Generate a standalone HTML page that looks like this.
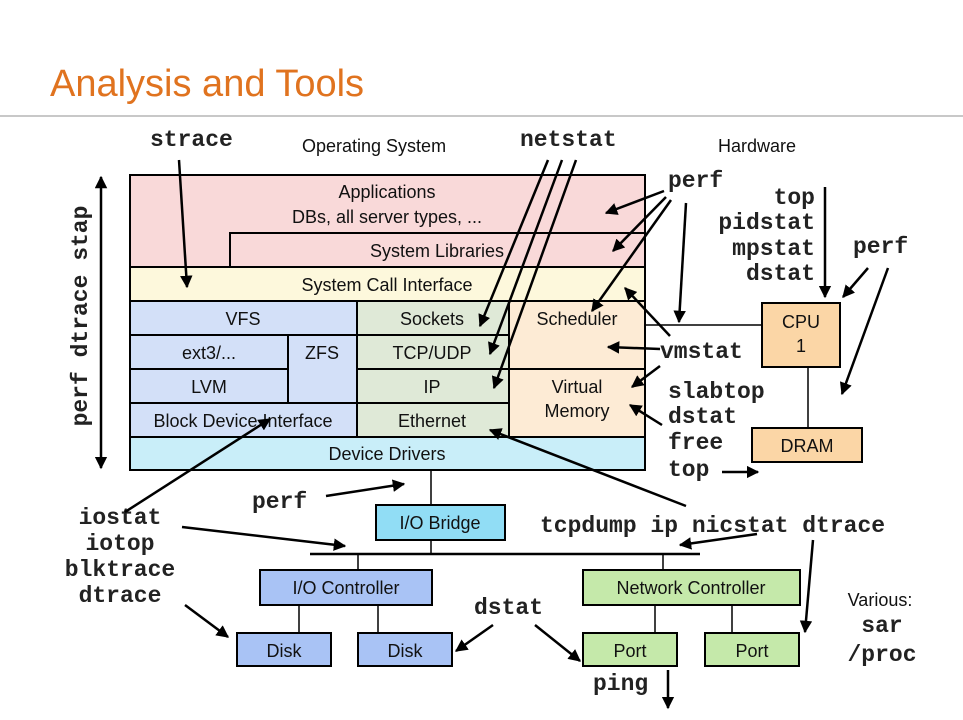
<!DOCTYPE html>
<html><head><meta charset="utf-8"><style>
html,body{margin:0;padding:0;background:#fff}
svg{display:block}
.s{font-family:"Liberation Sans",sans-serif;font-size:18px;fill:#111}
.m{font-family:"Liberation Mono",monospace;font-weight:bold;font-size:23px;fill:#222}
</style></head><body>
<svg width="963" height="720" viewBox="0 0 963 720" xmlns="http://www.w3.org/2000/svg">
<defs><marker id="a" viewBox="0 0 10 10" refX="9" refY="5" markerWidth="5" markerHeight="5" orient="auto-start-reverse"><path d="M0,0 L10,5 L0,10 z" fill="#000"/></marker></defs>
<text x="50" y="96" font-family="Liberation Sans,sans-serif" font-size="38" fill="#e0731f">Analysis and Tools</text>
<line x1="0" y1="116" x2="963" y2="116" stroke="#c8c8c8" stroke-width="2"/>
<text class="s" x="302" y="152" font-size="20">Operating System</text>
<text class="s" x="718" y="152" font-size="20">Hardware</text>
<g stroke="#000" stroke-width="2">
<rect x="130" y="175" width="515" height="92" fill="#f9d9d9"/>
<rect x="230" y="233" width="415" height="34" fill="#f9d9d9"/>
<rect x="130" y="267" width="515" height="34" fill="#fdf8dc"/>
<rect x="130" y="301" width="227" height="34" fill="#d3e0f8"/>
<rect x="130" y="335" width="158" height="34" fill="#d3e0f8"/>
<rect x="288" y="335" width="69" height="68" fill="#d3e0f8"/>
<rect x="130" y="369" width="158" height="34" fill="#d3e0f8"/>
<rect x="130" y="403" width="227" height="34" fill="#d3e0f8"/>
<rect x="357" y="301" width="152" height="34" fill="#dfe9d7"/>
<rect x="357" y="335" width="152" height="34" fill="#dfe9d7"/>
<rect x="357" y="369" width="152" height="34" fill="#dfe9d7"/>
<rect x="357" y="403" width="152" height="34" fill="#dfe9d7"/>
<rect x="509" y="301" width="136" height="68" fill="#fdebd5"/>
<rect x="509" y="369" width="136" height="68" fill="#fdebd5"/>
<rect x="130" y="437" width="515" height="33" fill="#c9eef9"/>
<rect x="762" y="303" width="78" height="64" fill="#fbd6a6"/>
<rect x="752" y="428" width="110" height="34" fill="#fbd6a6"/>
<rect x="376" y="505" width="129" height="35" fill="#91ddf5"/>
<rect x="260" y="570" width="172" height="35" fill="#a9c3f5"/>
<rect x="583" y="570" width="217" height="35" fill="#c5e9aa"/>
<rect x="237" y="633" width="94" height="33" fill="#a9c3f5"/>
<rect x="358" y="633" width="94" height="33" fill="#a9c3f5"/>
<rect x="583" y="633" width="94" height="33" fill="#c5e9aa"/>
<rect x="705" y="633" width="94" height="33" fill="#c5e9aa"/>
</g>
<g stroke="#000" stroke-width="1.5">
<line x1="645" y1="325" x2="762" y2="325"/><line x1="808" y1="367" x2="808" y2="428"/>
<line x1="431" y1="470" x2="431" y2="505"/><line x1="431" y1="540" x2="431" y2="554"/>
<line x1="310" y1="554" x2="700" y2="554" stroke-width="2.5"/>
<line x1="358" y1="554" x2="358" y2="570"/><line x1="663" y1="554" x2="663" y2="570"/>
<line x1="299" y1="605" x2="299" y2="633"/><line x1="378" y1="605" x2="378" y2="633"/>
<line x1="655" y1="605" x2="655" y2="633"/><line x1="732" y1="605" x2="732" y2="633"/>
</g>
<g class="s" text-anchor="middle">
<text x="387" y="198">Applications</text><text x="387" y="223">DBs, all server types, ...</text>
<text x="437" y="257">System Libraries</text><text x="387" y="291">System Call Interface</text>
<text x="243" y="325">VFS</text><text x="209" y="359">ext3/...</text><text x="322" y="359">ZFS</text>
<text x="209" y="393">LVM</text><text x="243" y="427">Block Device Interface</text>
<text x="432" y="325">Sockets</text><text x="432" y="359">TCP/UDP</text><text x="432" y="393">IP</text><text x="432" y="427">Ethernet</text>
<text x="577" y="325">Scheduler</text><text x="577" y="393">Virtual</text><text x="577" y="417">Memory</text>
<text x="387" y="460">Device Drivers</text>
<text x="801" y="328">CPU</text><text x="801" y="352">1</text><text x="807" y="452">DRAM</text>
<text x="440" y="529">I/O Bridge</text><text x="346" y="594">I/O Controller</text><text x="691" y="594">Network Controller</text>
<text x="284" y="657">Disk</text><text x="405" y="657">Disk</text><text x="630" y="657">Port</text><text x="752" y="657">Port</text>
<text x="880" y="606">Various:</text>
</g>
<g class="m">
<text x="150" y="146">strace</text><text x="520" y="146">netstat</text><text x="668" y="187">perf</text>
<text x="815" y="204" text-anchor="end">top</text><text x="815" y="229" text-anchor="end">pidstat</text>
<text x="815" y="255" text-anchor="end">mpstat</text><text x="815" y="280" text-anchor="end">dstat</text>
<text x="853" y="253">perf</text><text x="660" y="358">vmstat</text>
<text x="668" y="398">slabtop</text><text x="668" y="423">dstat</text><text x="668" y="449">free</text><text x="668" y="476">top</text>
<text x="252" y="508">perf</text>
<text x="120" y="524" text-anchor="middle">iostat</text><text x="120" y="550" text-anchor="middle">iotop</text>
<text x="120" y="576" text-anchor="middle">blktrace</text><text x="120" y="602" text-anchor="middle">dtrace</text>
<text x="540" y="532">tcpdump ip nicstat dtrace</text>
<text x="474" y="614">dstat</text><text x="593" y="690">ping</text>
<text x="882" y="632" text-anchor="middle">sar</text><text x="882" y="661" text-anchor="middle">/proc</text>
<text transform="translate(87,316) rotate(-90)" text-anchor="middle">perf dtrace stap</text>
</g>
<g stroke="#000" stroke-width="2.5" marker-end="url(#a)" fill="none">
<line x1="101" y1="468" x2="101" y2="177" marker-start="url(#a)"/>
<line x1="179" y1="160" x2="187" y2="287"/>
<line x1="548" y1="160" x2="480" y2="326"/>
<line x1="562" y1="160" x2="490" y2="354"/>
<line x1="576" y1="160" x2="494" y2="388"/>
<line x1="664" y1="191" x2="606" y2="213"/>
<line x1="666" y1="197" x2="613" y2="251"/>
<line x1="671" y1="200" x2="592" y2="311"/>
<line x1="686" y1="203" x2="679" y2="322"/>
<line x1="825" y1="187" x2="825" y2="297"/>
<line x1="868" y1="268" x2="843" y2="297"/>
<line x1="888" y1="268" x2="842" y2="394"/>
<line x1="670" y1="336" x2="625" y2="288"/>
<line x1="660" y1="349" x2="608" y2="347"/>
<line x1="660" y1="366" x2="632" y2="387"/>
<line x1="662" y1="425" x2="630" y2="405"/>
<line x1="722" y1="472" x2="758" y2="472"/>
<line x1="326" y1="496" x2="404" y2="484"/>
<line x1="182" y1="527" x2="345" y2="546"/>
<line x1="185" y1="605" x2="228" y2="637"/>
<line x1="125" y1="512" x2="270" y2="419"/>
<line x1="686" y1="506" x2="490" y2="430"/>
<line x1="757" y1="534" x2="680" y2="545"/>
<line x1="813" y1="540" x2="805" y2="632"/>
<line x1="493" y1="625" x2="456" y2="651"/>
<line x1="535" y1="625" x2="580" y2="661"/>
<line x1="668" y1="670" x2="668" y2="708"/>
</g>
</svg>
</body></html>
